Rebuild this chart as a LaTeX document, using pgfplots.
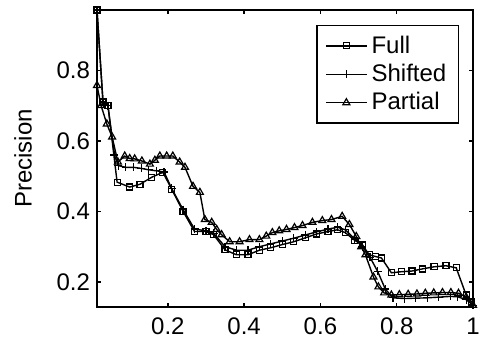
\documentclass[border=0pt]{standalone}
\usepackage{fontspec}
\setmainfont{Liberation Sans}
\usepackage{pgfplots}
\pgfplotsset{compat=1.18}
\begin{document}
\begin{tikzpicture}
\begin{axis}[
 scale only axis, width=188pt, height=148.5pt,
 xmin=0.0143, xmax=1, ymin=0.129, ymax=0.971,
 xtick={0.2,0.4,0.6,0.8,1}, xticklabels={0.2,0.4,0.6,0.8,1},
 ytick={0.2,0.4,0.6,0.8}, yticklabels={0.2,0.4,0.6,0.8},
 tick align=inside, major tick length=1.8pt,
 axis line style={line width=0.9pt},
 every tick/.style={black, line width=0.7pt},
 ylabel={Precision},
 ylabel style={yshift=5.5pt},
 font=\fontsize{12}{14}\selectfont,
 ticklabel style={font=\fontsize{12}{14}\selectfont},
 xticklabel style={yshift=-2pt},
 /pgf/number format/assume math mode=true,
 clip=false,
 legend style={at={(1,1)}, anchor=north east, xshift=-7pt, yshift=-7.5pt,
   draw=black, line width=0.7pt, font=\fontsize{12}{13.5}\selectfont,
   inner xsep=4pt, inner ysep=3pt, row sep=0pt},
 legend cell align=left,
 legend image code/.code={\draw[line width=0.7pt, mark repeat=2,mark phase=2,#1] plot coordinates {(0pt,0pt) (10.25pt,0pt) (20.5pt,0pt)};},
 every axis plot/.append style={black, line width=0.7pt, mark options={solid, line width=0.6pt}},
]
\coordinate (SW) at (rel axis cs:0,0);
\coordinate (NE) at (rel axis cs:1,1);
\addplot[mark=square, mark size=1.5pt] coordinates {
(0.0143,0.971) (0.030,0.71) (0.043,0.70) (0.067,0.483) (0.100,0.469) (0.127,0.477)
(0.158,0.497) (0.187,0.511) (0.210,0.463) (0.240,0.400) (0.270,0.343) (0.300,0.343)
(0.320,0.334) (0.350,0.291) (0.380,0.277) (0.410,0.277) (0.440,0.290) (0.470,0.297)
(0.500,0.306) (0.530,0.314) (0.560,0.325) (0.590,0.336) (0.620,0.343) (0.645,0.348)
(0.665,0.340) (0.690,0.318) (0.710,0.305) (0.728,0.277) (0.745,0.272) (0.760,0.268)
(0.786,0.226) (0.812,0.229) (0.840,0.231) (0.867,0.237) (0.898,0.243) (0.929,0.246)
(0.956,0.240) (0.982,0.163) (0.997,0.143)
};
\addlegendentry{Full}
\addplot[mark=+, mark size=2pt] coordinates {
(0.0143,0.971) (0.030,0.71) (0.043,0.70) (0.060,0.56) (0.070,0.530) (0.090,0.525)
(0.110,0.525) (0.130,0.522) (0.150,0.518) (0.170,0.515) (0.190,0.512) (0.210,0.465)
(0.240,0.405) (0.270,0.350) (0.300,0.345) (0.320,0.338) (0.350,0.300) (0.380,0.290)
(0.410,0.290) (0.440,0.300) (0.470,0.308) (0.500,0.316) (0.530,0.324) (0.560,0.333)
(0.590,0.342) (0.620,0.350) (0.645,0.355) (0.665,0.348) (0.690,0.322) (0.710,0.300)
(0.730,0.270) (0.750,0.230) (0.770,0.180) (0.790,0.155) (0.820,0.153) (0.850,0.154)
(0.880,0.155) (0.910,0.157) (0.940,0.159) (0.960,0.158) (0.982,0.150) (1.000,0.134)
};
\addlegendentry{Shifted}
\addplot[mark=triangle, mark size=2pt] coordinates {
(0.0143,0.757) (0.025,0.70) (0.040,0.648) (0.054,0.611) (0.069,0.540) (0.087,0.557)
(0.100,0.550) (0.113,0.549) (0.132,0.543) (0.153,0.534) (0.166,0.545) (0.179,0.557)
(0.197,0.557) (0.213,0.557) (0.231,0.540) (0.245,0.525) (0.266,0.471) (0.284,0.454)
(0.297,0.377) (0.315,0.369) (0.328,0.349) (0.341,0.334) (0.362,0.314) (0.388,0.314)
(0.414,0.320) (0.440,0.320) (0.458,0.330) (0.474,0.340) (0.492,0.345) (0.511,0.349)
(0.532,0.354) (0.553,0.360) (0.579,0.369) (0.605,0.374) (0.629,0.377) (0.657,0.386)
(0.676,0.363) (0.694,0.329) (0.707,0.300) (0.718,0.277) (0.739,0.214) (0.752,0.186)
(0.767,0.169) (0.786,0.163) (0.807,0.164) (0.830,0.165) (0.853,0.166) (0.875,0.168)
(0.897,0.169) (0.920,0.170) (0.942,0.170) (0.962,0.168) (0.982,0.157) (1.000,0.134)
};
\addlegendentry{Partial}
\end{axis}
\pgfresetboundingbox
\useasboundingbox ([xshift=-48.5pt,yshift=-17pt]SW) rectangle ([xshift=4.5pt,yshift=5pt]NE);
\end{tikzpicture}
\end{document}
